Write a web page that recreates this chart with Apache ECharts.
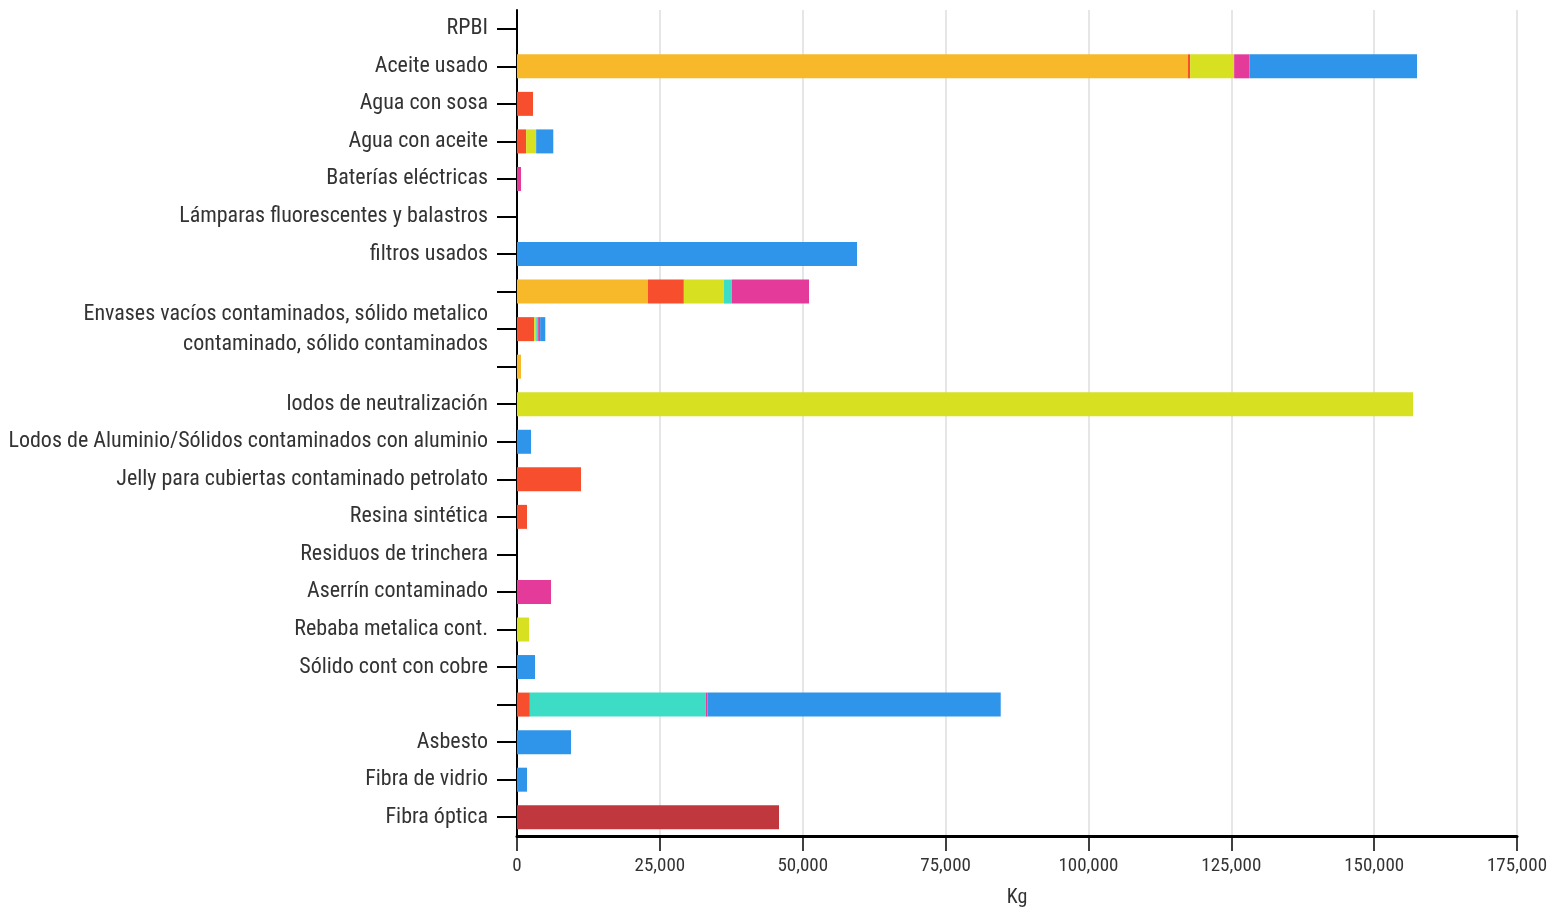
<!DOCTYPE html>
<html>
<head>
<meta charset="utf-8">
<script src="https://cdn.jsdelivr.net/npm/echarts@6.0.0/dist/echarts.min.js"></script>
<style>
  html, body { margin: 0; padding: 0; background: #fff; }
  #chart { width: 1552px; height: 913px; }
</style>
</head>
<body>
<div id="chart"></div>
<script>
// categories, top to bottom (some labels are blank in the original)
const categories = [
  'RPBI',
  'Aceite usado',
  'Agua con sosa',
  'Agua con aceite',
  'Baterías eléctricas',
  'Lámparas fluorescentes y balastros',
  'filtros usados',
  ' ',
  'Envases vacíos contaminados, sólido metalico\ncontaminado, sólido contaminados',
  '  ',
  'lodos de neutralización',
  'Lodos de Aluminio/Sólidos contaminados con aluminio',
  'Jelly para cubiertas contaminado petrolato',
  'Resina sintética',
  'Residuos de trinchera',
  'Aserrín contaminado',
  'Rebaba metalica cont.',
  'Sólido cont con cobre',
  '   ',
  'Asbesto',
  'Fibra de vidrio',
  'Fibra óptica'
];

// kg per stacked segment, same order as categories
const serie1 = [0, 117400, 0, 0, 0, 0, 0, 22900, 0, 700, 0, 0, 0, 0, 0, 0, 0, 0, 0, 0, 0, 0];
const serie2 = [0, 400, 2800, 1600, 0, 0, 0, 6300, 3000, 0, 0, 0, 11200, 1750, 0, 0, 0, 0, 2250, 0, 0, 0];
const serie3 = [0, 7700, 0, 1750, 0, 0, 0, 7000, 350, 0, 156800, 0, 0, 0, 0, 0, 2100, 0, 0, 0, 0, 0];
const serie4 = [0, 0, 0, 0, 0, 0, 0, 1400, 350, 0, 0, 0, 0, 0, 0, 0, 0, 0, 30800, 0, 0, 0];
const serie5 = [0, 2700, 0, 0, 700, 0, 0, 13500, 350, 0, 0, 0, 0, 0, 0, 5950, 0, 0, 300, 0, 0, 0];
const serie6 = [0, 29300, 0, 3000, 0, 0, 59500, 0, 900, 0, 0, 2450, 0, 0, 0, 0, 0, 3150, 51300, 9450, 1750, 0];
const serie7 = [0, 0, 0, 0, 0, 0, 0, 0, 0, 0, 0, 0, 0, 0, 0, 0, 0, 0, 0, 0, 0, 45850];

const seriesNames = ['Serie 1', 'Serie 2', 'Serie 3', 'Serie 4', 'Serie 5', 'Serie 6', 'Serie 7'];
const seriesColors = ['#f7b92a', '#f74f2d', '#d7e021', '#3ddcc5', '#e43a9a', '#2e95ea', '#c0373e'];
const seriesData = [serie1, serie2, serie3, serie4, serie5, serie6, serie7];

const labelFont = "'Roboto Condensed', 'Liberation Sans Narrow', 'DejaVu Sans Condensed', Roboto, sans-serif";

const chartInstance = echarts.init(document.getElementById('chart'));

chartInstance.setOption({
  animation: false,
  grid: {
    left: 517,
    right: 35,
    top: 10,
    bottom: 77,
  },
  xAxis: {
    type: 'value',
    min: 0,
    max: 175000,
    interval: 25000,
    name: 'Kg',
    nameLocation: 'middle',
    nameGap: 52,
    nameTextStyle: {
      color: '#333',
      fontSize: 20,
      fontFamily: labelFont,
    },
    axisLine: {
      show: true,
      lineStyle: { color: '#000', width: 3 },
    },
    axisTick: {
      show: true,
      length: 15,
      lineStyle: { color: '#000', width: 1.5 },
    },
    axisLabel: {
      margin: 21,
      color: '#333',
      fontSize: 19,
      fontFamily: labelFont,
      formatter: (v) => v.toLocaleString('en-US'),
    },
    splitLine: {
      lineStyle: { color: '#e6e6e6', width: 2 },
    },
  },
  yAxis: {
    type: 'category',
    inverse: true,
    data: categories,
    axisLine: {
      show: true,
      lineStyle: { color: '#000', width: 2 },
    },
    axisTick: {
      show: true,
      alignWithLabel: true,
      length: 20,
      lineStyle: { color: '#000', width: 2 },
    },
    axisLabel: {
      interval: 0,
      margin: 29,
      color: '#333',
      fontSize: 22,
      lineHeight: 30,
      padding: [7, 0, 0, 0],
      fontFamily: labelFont,
    },
  },
  series: seriesData.map((data, i) => ({
    name: seriesNames[i],
    type: 'bar',
    stack: 'total',
    barWidth: 24,
    itemStyle: { color: seriesColors[i] },
    data: data,
  })),
});
</script>
</body>
</html>
